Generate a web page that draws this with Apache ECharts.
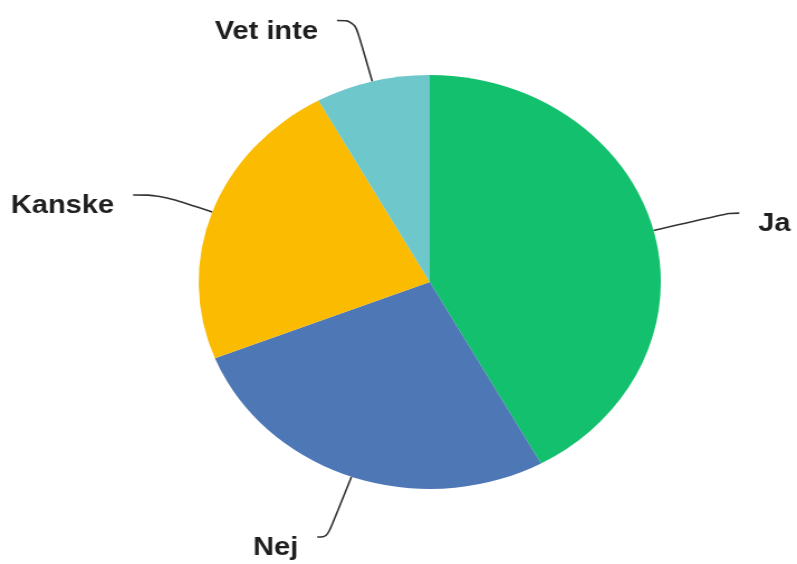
<!DOCTYPE html>
<html>
<head>
<meta charset="utf-8">
<script src="https://cdn.jsdelivr.net/npm/echarts@6/dist/echarts.min.js"></script>
<style>
  html, body { margin: 0; padding: 0; background: #ffffff; overflow: hidden; }
  #wrap { width: 797px; height: 564px; overflow: hidden; }
  #chart { width: 714px; height: 564px; transform: scaleX(1.1162); transform-origin: 0 0; }
</style>
</head>
<body>
<div id="wrap"><div id="chart"></div></div>
<script>
// Data
const categories = ['Ja', 'Nej', 'Kanske', 'Vet inte'];
const values = [42, 27, 23, 8];

// Styling (kept separate from data)
const colors = ['#13C06D', '#4E77B6', '#FABB00', '#6DC7CB'];
const lineLengths = [[70, 9], [64, 9], [50, 24], [63, 16]];

const chart = echarts.init(document.getElementById('chart'), null, { renderer: 'canvas' });

const seriesData = categories.map((name, i) => ({
  name: name,
  value: values[i],
  itemStyle: { color: colors[i] },
  labelLine: { length: lineLengths[i][0], length2: lineLengths[i][1] }
}));

chart.setOption({
  animation: false,
  backgroundColor: '#ffffff',
  series: [{
    type: 'pie',
    center: [385, 282],
    radius: 207,
    startAngle: 90,
    clockwise: true,
    avoidLabelOverlap: false,
    data: seriesData,
    label: {
      show: true,
      position: 'outside',
      formatter: '{b}',
      color: '#1f1f1f',
      fontFamily: 'Liberation Sans, Arial, sans-serif',
      fontWeight: 'bold',
      fontSize: 26,
      distanceToLabelLine: 17
    },
    labelLayout: function (params) {
      return { dy: 11, labelLinePoints: params.labelLinePoints };
    },
    labelLine: {
      show: true,
      smooth: 0.4,
      lineStyle: { color: '#333333', width: 1.6 }
    },
    emphasis: { disabled: true }
  }]
});
</script>
</body>
</html>
